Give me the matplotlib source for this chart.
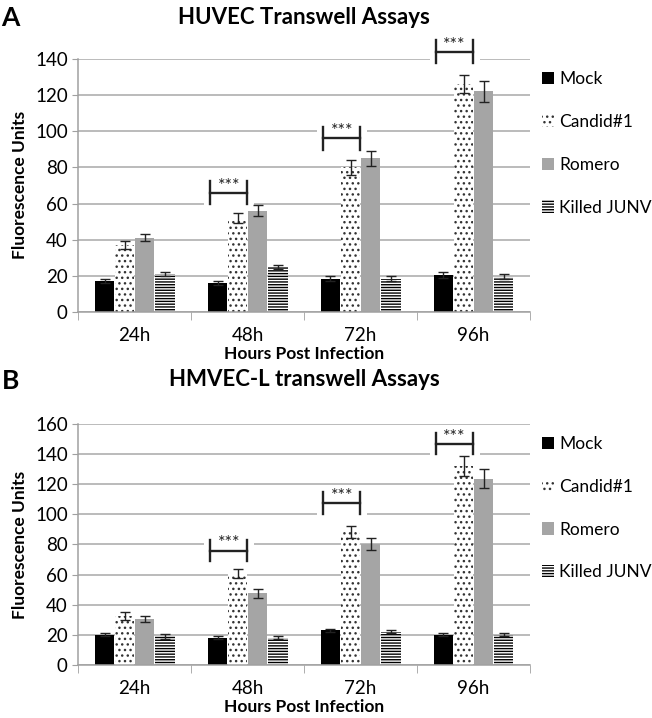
import matplotlib.pyplot as plt
import matplotlib.patches as mpatches
import numpy as np

plt.rcParams['font.family'] = ['Lato', 'DejaVu Sans']
plt.rcParams['hatch.linewidth'] = 1.0

hours = ['24h', '48h', '72h', '96h']
series = ['Mock', 'Candid#1', 'Romero', 'Killed JUNV']

# panel A - HUVEC
huvec_mock = [17, 16, 18.5, 20.5]
huvec_candid = [37, 52, 80, 126]
huvec_romero = [41, 56, 85, 122]
huvec_killed = [21, 25, 18.5, 19.5]
huvec_err_mock = [1, 1, 1.5, 1.5]
huvec_err_candid = [2, 3, 4, 5]
huvec_err_romero = [2, 3, 4, 6]
huvec_err_killed = [1.2, 1, 1.5, 1.5]
huvec_sig = [None, 66, 96, 144]   # bracket height for ***

# panel B - HMVEC-L
hmvec_mock = [20, 18, 23, 20]
hmvec_candid = [32.5, 60.5, 88, 132]
hmvec_romero = [30.7, 47.7, 80.6, 123.8]
hmvec_killed = [19, 18, 22, 20]
hmvec_err_mock = [1, 1, 1, 1]
hmvec_err_candid = [2.5, 3, 4, 6.5]
hmvec_err_romero = [2, 3, 4, 6]
hmvec_err_killed = [1.5, 1, 1, 1]
hmvec_sig = [None, 76, 107.5, 147]

styles = [
    dict(color='black'),
    dict(color='white', hatch='...', edgecolor='#333333'),
    dict(color='#a5a5a5'),
    dict(color='white', hatch='------', edgecolor='black'),
]


def draw_panel(ax, vals, errs, sig, ymax, title, letter, title_pad, letter_y):
    x = np.arange(len(hours))
    w = 0.172
    step = 0.178
    ax.set_axisbelow(True)
    ax.yaxis.grid(True, color='#a8a8a8', linewidth=1.1)
    handles = []
    for i, (v, e) in enumerate(zip(vals, errs)):
        pos = x + (i - 1.5) * step
        b = ax.bar(pos, v, width=w, linewidth=0, label=series[i], zorder=2, **styles[i])
        ax.errorbar(pos, v, yerr=e, fmt='none', ecolor='#222222', elinewidth=1,
                    capsize=3.5, capthick=1, zorder=3)
        handles.append(b)
    tick = ymax * 0.045
    for xi, h in zip(x, sig):
        if h is None:
            continue
        x0, x1 = xi - 0.33, xi - 0.005
        ax.add_patch(mpatches.Rectangle((x0 - 0.06, h - tick - 1), x1 - x0 + 0.12, 2 * tick + 2,
                                        facecolor='white', edgecolor='none', zorder=1.5,
                                        clip_on=False))
        ax.plot([x0, x1], [h, h], color='#222222', lw=1.7, zorder=4, clip_on=False)
        ax.plot([x0, x0], [h - tick, h + tick], color='#222222', lw=1.7, zorder=4, clip_on=False)
        ax.plot([x1, x1], [h - tick, h + tick], color='#222222', lw=1.7, zorder=4, clip_on=False)
        ax.text((x0 + x1) / 2, h - ymax * 0.004, '***', ha='center', va='bottom',
                fontsize=13, color='#222222', zorder=4)

    ax.set_xlim(-0.5, len(hours) - 0.5)
    ax.set_ylim(0, ymax)
    ax.set_yticks(np.arange(0, ymax + 1, 20))
    ax.set_xticks(x)
    ax.set_xticklabels(hours)
    ax.set_xticks(np.arange(-0.5, len(hours)), minor=True)
    ax.tick_params(axis='x', which='major', length=0, labelsize=13.5, pad=11)
    ax.tick_params(axis='x', which='minor', length=6, color='#a0a0a0', direction='out')
    ax.tick_params(axis='y', length=4, color='#a0a0a0', labelsize=13.5)
    for s in ['top', 'right']:
        ax.spines[s].set_visible(False)
    ax.spines['left'].set_color('#a0a0a0')
    ax.spines['bottom'].set_color('#a0a0a0')
    ax.spines['bottom'].set_linewidth(1.1)
    ax.spines['left'].set_linewidth(1.1)
    ax.set_xlabel('Hours Post Infection', fontsize=12.5, fontweight='bold', labelpad=1)
    ax.set_ylabel('Fluorescence Units', fontsize=12.5, fontweight='bold', labelpad=5)
    ax.set_title(title, fontsize=16, fontweight='bold', pad=title_pad)
    ax.text(-0.17, letter_y, letter, transform=ax.transAxes, fontsize=19, fontweight='bold',
            va='center', ha='left')
    ax.legend(handles=handles, loc='upper left', bbox_to_anchor=(1.01, 0.98), frameon=False,
              fontsize=12.5, handlelength=0.7, handleheight=0.7, handletextpad=0.3,
              labelspacing=1.55, borderaxespad=0)


fig = plt.figure(figsize=(6.52, 7.18), dpi=100)
ax1 = fig.add_axes([0.120, 0.5655, 0.693, 0.3525])
ax2 = fig.add_axes([0.120, 0.0738, 0.693, 0.3357])

draw_panel(ax1,
           [huvec_mock, huvec_candid, huvec_romero, huvec_killed],
           [huvec_err_mock, huvec_err_candid, huvec_err_romero, huvec_err_killed],
           huvec_sig, 140, 'HUVEC Transwell Assays', 'A', 25, 1.16)
draw_panel(ax2,
           [hmvec_mock, hmvec_candid, hmvec_romero, hmvec_killed],
           [hmvec_err_mock, hmvec_err_candid, hmvec_err_romero, hmvec_err_killed],
           hmvec_sig, 160, 'HMVEC-L transwell Assays', 'B', 27, 1.18)

fig.savefig('out.png', dpi=100)
